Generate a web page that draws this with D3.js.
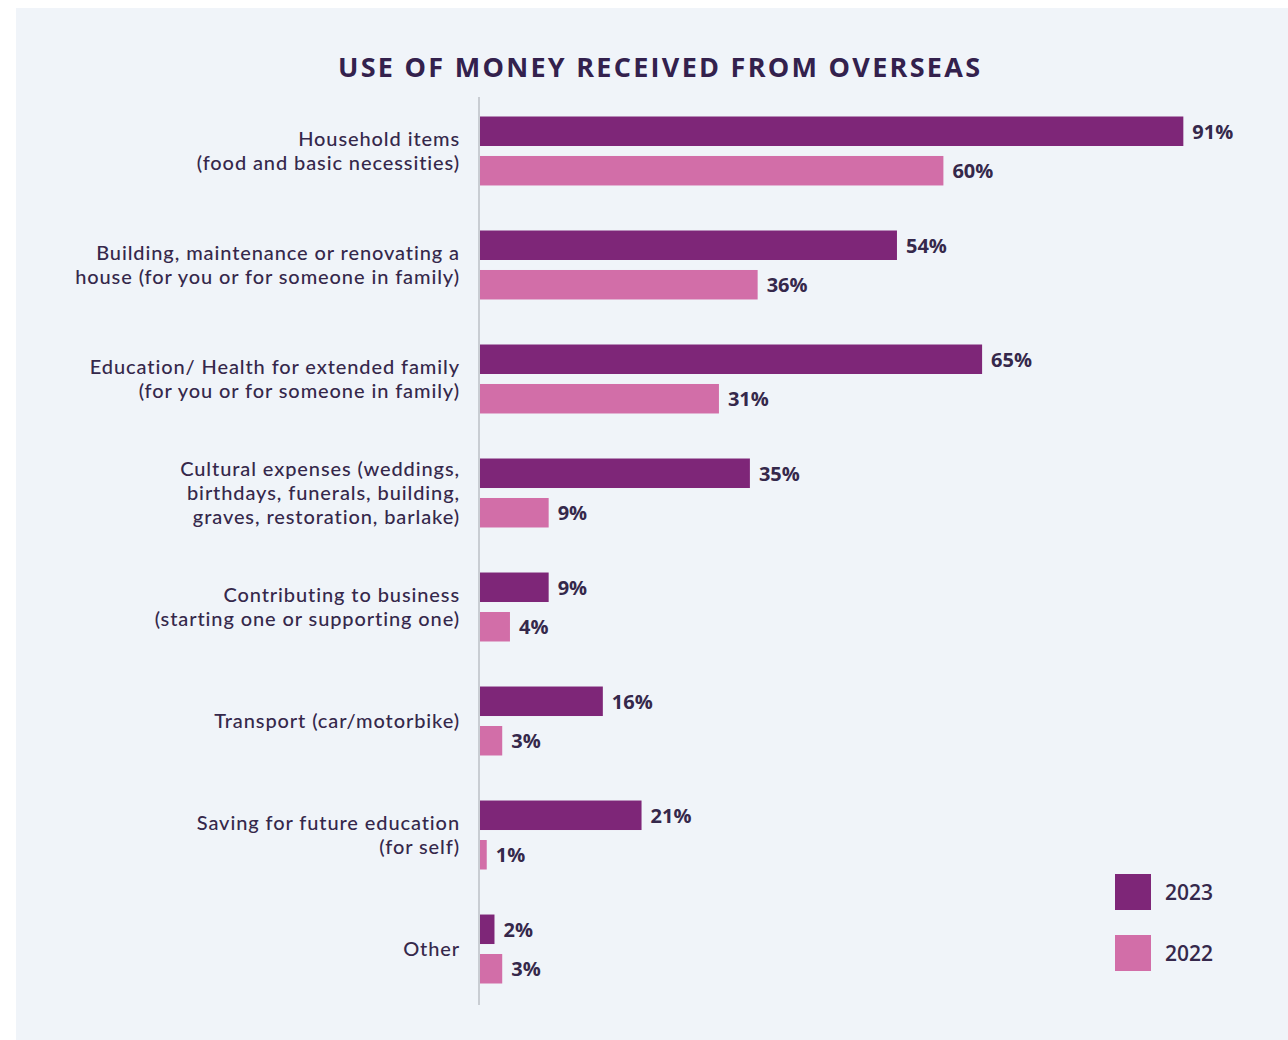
<!DOCTYPE html>
<html>
<head>
<meta charset="utf-8">
<script src="https://cdn.jsdelivr.net/npm/d3@7"></script>
<style>
  html, body { margin: 0; padding: 0; background: #ffffff; }
  svg { display: block; }
</style>
</head>
<body>
<svg id="chart" width="1288" height="1040"></svg>
<script>
// ---- data ----
const title = "USE OF MONEY RECEIVED FROM OVERSEAS";
const categories = [
  "Household items\n(food and basic necessities)",
  "Building, maintenance or renovating a\nhouse (for you or for someone in family)",
  "Education/ Health for extended family\n(for you or for someone in family)",
  "Cultural expenses (weddings,\nbirthdays, funerals, building,\ngraves, restoration, barlake)",
  "Contributing to business\n(starting one or supporting one)",
  "Transport (car/motorbike)",
  "Saving for future education\n(for self)",
  "Other"
];
const values2023 = [91, 54, 65, 35, 9, 16, 21, 2];
const values2022 = [60, 36, 31, 9, 4, 3, 1, 3];
const years = ["2023", "2022"];

// ---- styles ----
const colors = { "2023": "#7e2678", "2022": "#d26ea8" };
const textColor = "#35284b";
const fontFamily = "'Open Sans', 'Noto Sans', sans-serif";
const labelFont = "Lato, 'Open Sans', sans-serif";

const svg = d3.select("#chart");

// panel background
svg.append("rect")
  .attr("x", 16).attr("y", 8)
  .attr("width", 1288 - 16).attr("height", 1040 - 8)
  .attr("fill", "#f0f4f9");

// title
svg.append("text")
  .attr("x", 338).attr("y", 77)
  .attr("font-family", fontFamily)
  .attr("font-weight", 700)
  .attr("font-size", 27)
  .attr("textLength", 642)
  .attr("lengthAdjust", "spacing")
  .attr("fill", "#33214d")
  .text(title);

// scales
const x = d3.scaleLinear().domain([0, 100]).range([479, 1253]);
const y = d3.scaleBand()
  .domain(d3.range(categories.length))
  .range([116.5, 983.5])
  .paddingInner(0.395)
  .paddingOuter(0);
const yInner = d3.scaleBand()
  .domain(years)
  .range([0, y.bandwidth()])
  .paddingInner(0.253);

const rows = categories.map((c, i) => ({
  i, label: c,
  vals: [{ year: "2023", v: values2023[i] }, { year: "2022", v: values2022[i] }]
}));

// axis line
svg.append("line")
  .attr("x1", x(0)).attr("x2", x(0))
  .attr("y1", 97).attr("y2", 1005)
  .attr("stroke", "#c9cdd3")
  .attr("stroke-width", 2);

const g = svg.selectAll("g.row").data(rows).join("g")
  .attr("class", "row")
  .attr("transform", d => `translate(0,${y(d.i)})`);

g.selectAll("rect").data(d => d.vals).join("rect")
  .attr("x", x(0) + 1)
  .attr("y", d => yInner(d.year))
  .attr("width", d => x(d.v) - x(0) - 1)
  .attr("height", yInner.bandwidth())
  .attr("fill", d => colors[d.year]);

g.selectAll("text.val").data(d => d.vals).join("text")
  .attr("class", "val")
  .attr("x", d => x(d.v) + 9)
  .attr("y", d => yInner(d.year) + yInner.bandwidth() / 2)
  .attr("dy", "0.38em")
  .attr("font-family", fontFamily)
  .attr("font-weight", 700)
  .attr("font-size", 20)
  .attr("fill", textColor)
  .text(d => d.v + "%");

// category labels
const lineH = 24;
g.append("text")
  .attr("class", "cat")
  .attr("text-anchor", "end")
  .attr("font-family", labelFont)
  .attr("font-size", 20)
  .attr("font-weight", 500)
  .attr("letter-spacing", 0.9)
  .attr("fill", textColor)
  .each(function(d) {
    const lines = d.label.split("\n");
    const cy = y.bandwidth() / 2;
    const t = d3.select(this);
    lines.forEach((ln, k) => {
      t.append("tspan")
        .attr("x", 460)
        .attr("y", cy + (k - (lines.length - 1) / 2) * lineH)
        .attr("dy", "0.36em")
        .text(ln);
    });
  });

// legend
const legend = svg.append("g").attr("transform", "translate(1115,874)");
const lg = legend.selectAll("g").data(years).join("g")
  .attr("transform", (d, i) => `translate(0,${i * 61})`);
lg.append("rect")
  .attr("width", 36).attr("height", 36)
  .attr("fill", d => colors[d]);
lg.append("text")
  .attr("x", 50).attr("y", 18).attr("dy", "0.36em")
  .attr("font-family", fontFamily)
  .attr("font-weight", 600)
  .attr("font-size", 21)
  .attr("fill", textColor)
  .text(d => d);
</script>
</body>
</html>
